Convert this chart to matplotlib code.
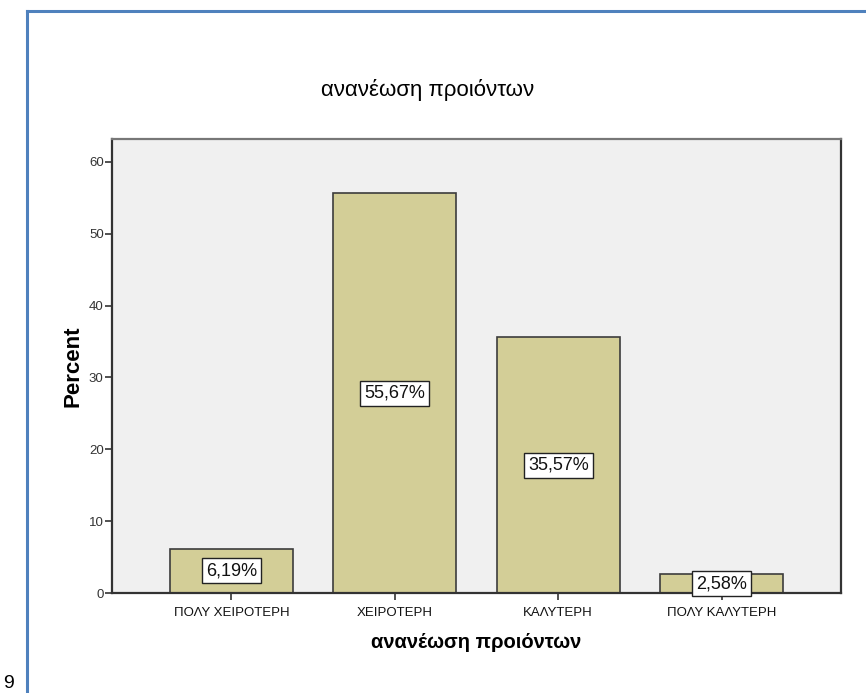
import matplotlib
matplotlib.use("Agg")
import matplotlib.pyplot as plt
from matplotlib.lines import Line2D

# Κατανομή απαντήσεων (%)
categories = ["ΠΟΛΥ ΧΕΙΡΟΤΕΡΗ", "ΧΕΙΡΟΤΕΡΗ", "ΚΑΛΥΤΕΡΗ", "ΠΟΛΥ ΚΑΛΥΤΕΡΗ"]
percents = [6.19, 55.67, 35.57, 2.58]
y_ticks = [0, 10, 20, 30, 40, 50, 60]

title = "ανανέωση προιόντων"

plt.rcParams["font.family"] = ["Liberation Sans", "DejaVu Sans"]

fig = plt.figure(figsize=(8.66, 6.93), dpi=100)
fig.patch.set_facecolor("white")

# blue frame around the chart
fig.add_artist(Line2D([26.5 / 866, 26.5 / 866], [0, 1 - 11 / 693],
                      color="#4f81bd", linewidth=2.2, transform=fig.transFigure))
fig.add_artist(Line2D([26.5 / 866, 1], [1 - 11 / 693, 1 - 11 / 693],
                      color="#4f81bd", linewidth=2.2, transform=fig.transFigure))
fig.text(3 / 866, 1 - 684 / 693, "9", fontsize=14, va="center", ha="left")

ax = fig.add_axes([112 / 866, 1 - 593 / 693, (841 - 112) / 866, (593 - 139) / 693])
ax.set_facecolor("#f0f0f0")

x = list(range(len(categories)))
bars = ax.bar(x, percents, width=0.755, color="#d3ce97",
              edgecolor="#3c3c3c", linewidth=1.2, zorder=2)

for xi, v in zip(x, percents):
    label = f"{v:.2f}%".replace(".", ",")
    ax.text(xi, v / 2, label, ha="center", va="center", fontsize=13,
            color="#111111", zorder=3,
            bbox=dict(boxstyle="square,pad=0.22", facecolor="white",
                      edgecolor="#222222", linewidth=1.0))

ax.set_xlim(-0.73, 3.73)
ax.set_ylim(0, 63.2)
ax.set_yticks(y_ticks)
ax.set_yticklabels([str(t) for t in y_ticks], fontsize=9.5, color="#333333")
ax.set_xticks(x)
ax.set_xticklabels(categories, fontsize=9.5, color="#111111")

ax.tick_params(axis="both", direction="out", length=5, width=1.2, color="#333333")
ax.tick_params(axis="y", pad=1)
ax.tick_params(axis="x", pad=5)

for side in ["left", "right", "top", "bottom"]:
    ax.spines[side].set_color("#333333")
    ax.spines[side].set_linewidth(1.6)
ax.spines["top"].set_color("#777777")

ax.set_ylabel("Percent", fontsize=16, fontweight="bold", labelpad=4)
ax.set_xlabel(title, fontsize=14.5, fontweight="bold", labelpad=10)
fig.text(428 / 866, 1 - 90 / 693, title, fontsize=16, ha="center", va="center")

fig.savefig("out.png", dpi=100, facecolor=fig.get_facecolor())
